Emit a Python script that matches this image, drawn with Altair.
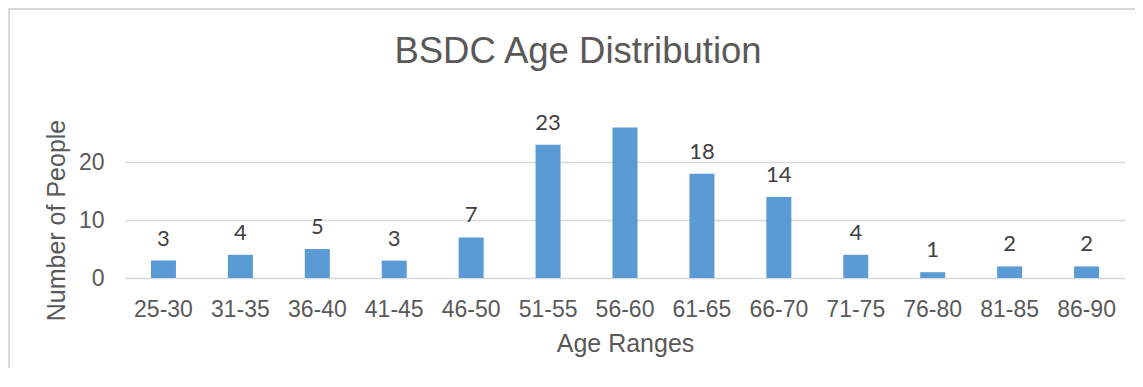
import altair as alt
import pandas as pd

age_ranges = ["25-30", "31-35", "36-40", "41-45", "46-50", "51-55", "56-60",
              "61-65", "66-70", "71-75", "76-80", "81-85", "86-90"]
people = [3, 4, 5, 3, 7, 23, 26, 18, 14, 4, 1, 2, 2]
label_text = ["3", "4", "5", "3", "7", "23", "", "18", "14", "4", "1", "2", "2"]

df = pd.DataFrame({"range": age_ranges, "people": people, "label": label_text})

GRAY = "#595959"
AXIS_FONT = "Liberation Sans"

x = alt.X("range:N", sort=age_ranges,
          scale=alt.Scale(paddingInner=0.675, paddingOuter=0.3375),
          axis=alt.Axis(title="Age Ranges", labelAngle=0, labelFontSize=23,
                        labelColor=GRAY, labelFont=AXIS_FONT, labelPadding=20,
                        ticks=False, tickSize=0, domain=False,
                        titleFontSize=25, titleFont=AXIS_FONT, titleColor=GRAY,
                        titleFontWeight="normal", titleBaseline="alphabetic",
                        titleY=73))
y = alt.Y("people:Q", scale=alt.Scale(domain=[0, 29], nice=False),
          axis=alt.Axis(title="Number of People", values=[0, 10, 20],
                        labelFontSize=23, labelColor=GRAY, labelFont=AXIS_FONT,
                        labelPadding=21, ticks=False, tickSize=0, domain=False,
                        gridColor="#d9d9d9", gridWidth=1.5,
                        titleFontSize=25, titleFont=AXIS_FONT, titleColor=GRAY,
                        titleFontWeight="normal", titleAngle=270,
                        titleBaseline="alphabetic", titleAlign="center",
                        titleX=-61, titleY=110))

bars = alt.Chart(df).mark_bar(color="#5b9bd5").encode(x=x, y=y)
labels = alt.Chart(df).mark_text(baseline="alphabetic", dy=-15, fontSize=22,
                                 font="Lato", color="#404040").encode(
    x=alt.X("range:N", sort=age_ranges), y="people:Q", text="label:N")

frame = alt.Chart(pd.DataFrame({"f": [0]})).mark_rect(
    fillOpacity=0, stroke="#d9d9d9", strokeWidth=2).encode(
    x=alt.value(-116), x2=alt.value(1100), y=alt.value(-101), y2=alt.value(400))

chart = alt.layer(frame, bars, labels).properties(
    width=1000, height=168,
    title=alt.TitleParams("BSDC Age Distribution", fontSize=36.5, font=AXIS_FONT,
                          fontWeight="normal", color=GRAY, anchor="middle",
                          baseline="alphabetic", offset=-91, dx=-47),
    autosize=alt.AutoSizeParams(type="none"),
    padding={"left": 117, "top": 102, "right": 10, "bottom": 90},
).configure_view(stroke=None)

chart.save("out.html", embed_options={"renderer": "svg", "actions": False})
